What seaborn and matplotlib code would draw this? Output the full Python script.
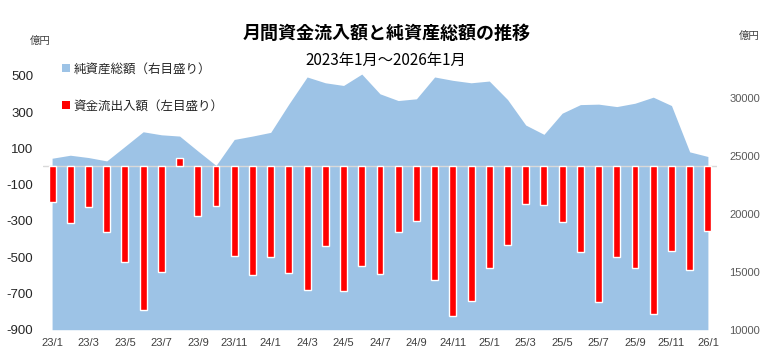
import matplotlib
matplotlib.use("Agg")
import matplotlib.pyplot as plt
from matplotlib.patches import Patch
import seaborn as sns
import pandas as pd
import numpy as np

# month labels (23/1 .. 26/1)
MONTHS = ["23/1", "23/2", "23/3", "23/4", "23/5", "23/6", "23/7", "23/8", "23/9", "23/10", "23/11", "23/12",
          "24/1", "24/2", "24/3", "24/4", "24/5", "24/6", "24/7", "24/8", "24/9", "24/10", "24/11", "24/12",
          "25/1", "25/2", "25/3", "25/4", "25/5", "25/6", "25/7", "25/8", "25/9", "25/10", "25/11", "25/12",
          "26/1"]

# monthly net flow (億円, left axis)
FLOWS = [-194, -310, -222, -363, -525, -789, -580, 46, -273, -217, -494, -600,
         -501, -589, -681, -437, -684, -547, -593, -363, -299, -624, -824, -741,
         -561, -433, -207, -211, -305, -473, -745, -501, -561, -811, -464, -569,
         -358]

# total net assets (億円, right axis)
ASSETS = [24770, 25030, 24830, 24540, 25790, 27050, 26790, 26680, 25400, 24150, 26390, 26680,
          27000, 29450, 31770, 31270, 31040, 32020, 30320, 29740, 29890, 31770, 31480, 31270,
          31420, 29830, 27630, 26830, 28650, 29390, 29430, 29220, 29510, 30030, 29310, 25320,
          24920]

LEFT_TICKS = [-900, -700, -500, -300, -100, 100, 300, 500]
RIGHT_TICKS = [10000, 15000, 20000, 25000, 30000]

AREA_COLOR = "#9DC3E6"
BAR_COLOR = "#FF0000"

sns.set_theme(style="white")
plt.rcParams["font.family"] = ["Noto Sans CJK JP", "DejaVu Sans"]

df = pd.DataFrame({"month": MONTHS, "flow": FLOWS, "assets": ASSETS})

fig = plt.figure(figsize=(7.77, 3.59), dpi=100)
ax = fig.add_axes([0.0553, 0.0816, 0.8675, 0.8084])
ax2 = ax.twinx()

# area on the right axis, behind the bars
x = np.arange(len(df))
ax2.fill_between(x, df["assets"], RIGHT_TICKS[0], color=AREA_COLOR, lw=0)
ax2.set_ylim(10000, 35000)

# bars on the left axis
sns.barplot(data=df, x="month", y="flow", color=BAR_COLOR, saturation=1,
            width=0.38, ax=ax, zorder=3)
ax.axhline(0, color="#D9D9D9", lw=1.0, zorder=2)
ax.set_ylim(-900, 700)
ax.set_xlim(-0.5, len(df) - 0.5)

ax.set_zorder(ax2.get_zorder() + 1)
ax.patch.set_visible(False)

ax.set_xlabel("")
ax.set_ylabel("")
ax.set_xticks(x[::2])
ax.set_xticklabels(MONTHS[::2], fontsize=8, color="#404040", family="Liberation Sans")
ax.set_yticks(LEFT_TICKS)
ax.set_yticklabels([str(v) for v in LEFT_TICKS], fontsize=9.5, color="#262626", family="Liberation Sans")
ax2.set_yticks(RIGHT_TICKS)
ax2.set_yticklabels([str(v) for v in RIGHT_TICKS], fontsize=8, color="#595959", family="Liberation Sans")
ax.tick_params(axis="x", length=0, pad=6)
ax.tick_params(axis="y", length=0, pad=7)
ax2.tick_params(axis="y", length=0, pad=9)

for a in (ax, ax2):
    for s in a.spines.values():
        s.set_visible(False)
    a.grid(False)

# titles and units
fig.text(0.497, 0.908, "月間資金流入額と純資産総額の推移", ha="center", va="center",
         fontsize=13, fontweight="bold", color="black")
fig.text(0.497, 0.833, "2023年1月～2026年1月", ha="center", va="center",
         fontsize=11, color="black")
fig.text(0.0515, 0.886, "億円", ha="center", va="center", fontsize=7.5, color="#404040")
fig.text(0.964, 0.900, "億円", ha="center", va="center", fontsize=7.5, color="#404040")

handles = [Patch(facecolor=AREA_COLOR, edgecolor="none", label="純資産総額（右目盛り）"),
           Patch(facecolor=BAR_COLOR, edgecolor="none", label="資金流出入額（左目盛り）")]
ax.legend(handles=handles, loc="upper left", bbox_to_anchor=(0.080, 0.826),
          bbox_transform=fig.transFigure, frameon=False, fontsize=9,
          handlelength=0.6, handleheight=0.6, handletextpad=0.3,
          labelspacing=1.95, borderpad=0, borderaxespad=0)

fig.savefig("out.png", dpi=100)
